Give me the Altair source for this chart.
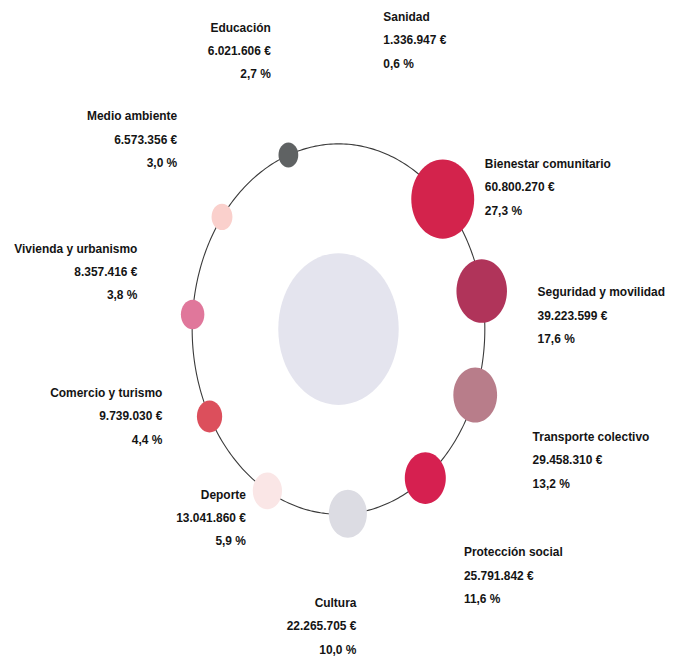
import altair as alt
import pandas as pd

# ---- data ----
names = ["Sanidad", "Bienestar comunitario", "Seguridad y movilidad", "Transporte colectivo",
         "Protección social", "Cultura", "Deporte", "Comercio y turismo",
         "Vivienda y urbanismo", "Medio ambiente", "Educación"]
amounts = [1336947, 60800270, 39223599, 29458310, 25791842, 22265705,
           13041860, 9739030, 8357416, 6573356, 6021606]
pcts = [0.6, 27.3, 17.6, 13.2, 11.6, 10.0, 5.9, 4.4, 3.8, 3.0, 2.7]
colors = ["transparent", "#d3234c", "#b0345a", "#b87d8a", "#d62050", "#dcdce3",
          "#fae6e6", "#dc4f5c", "#e0779b", "#fad0cc", "#5f6263"]
total_pct = [100]

# ---- layout (page pixels for label anchors) ----
label_px = [385, 487, 540, 535, 466, 358, 247, 163, 138, 178, 272]
label_py = [15, 163, 292, 437, 553, 604, 495, 393, 248, 115, 26]
label_side = ["left"] * 5 + ["right"] * 6

W, H = 658, 643
CX, CY = 332, 321      # ring centre in plot pixels
RX, RY = 147, 186      # ring radii in pixels
ASPECT = 1.26
ELLIPSE = f"M 1 0 A 1 {ASPECT} 0 1 1 -1 0 A 1 {ASPECT} 0 1 1 1 0 Z"
FONT = "Liberation Sans"
FS = 12


def eur(a):
    return f"{a:,}".replace(",", ".") + " €"


def pc(p):
    return f"{p:.1f}".replace(".", ",") + " %"


df = pd.DataFrame({
    "k": list(range(len(names))),
    "name": names,
    "pct": pcts,
    "color": colors,
    "label": [f"{n}\n{eur(a)}\n{pc(p)}" for n, a, p in zip(names, amounts, pcts)],
    "lx": [(px - 8 - CX) / RX for px in label_px],
    "ly": [(CY - (py - 8 + FS * 0.36)) / RY for py in label_py],
    "side": label_side,
})

xs = alt.Scale(domain=[-CX / RX, (W - CX) / RX], nice=False, zero=False)
ys = alt.Scale(domain=[-(H - CY) / RY, CY / RY], nice=False, zero=False)
sizes = alt.Scale(type="linear", domain=[0, 100], range=[0, 121 ** 2], zero=True)

ring = alt.Chart(alt.sequence(0, 361, 1, as_="deg")).transform_calculate(
    rx="sin(datum.deg*PI/180)", ry="cos(datum.deg*PI/180)"
).mark_line(color="#3a3a3a", strokeWidth=1.1).encode(
    x=alt.X("rx:Q", scale=xs, axis=None),
    y=alt.Y("ry:Q", scale=ys, axis=None),
    order="deg:Q",
)

center = alt.Chart(pd.DataFrame({"cx": [0.0], "cy": [0.0], "pct": total_pct})).mark_point(
    shape=ELLIPSE, filled=True, opacity=1, color="#e4e4ee", strokeWidth=0
).encode(
    x=alt.X("cx:Q", scale=xs, axis=None),
    y=alt.Y("cy:Q", scale=ys, axis=None),
    size=alt.Size("pct:Q", scale=sizes, legend=None),
)

base = alt.Chart(df)

bubbles = base.transform_calculate(
    th="(12.7 + datum.k*360/11)*PI/180"
).transform_calculate(
    bx="sin(datum.th)", by="cos(datum.th)"
).mark_point(shape=ELLIPSE, filled=True, opacity=1, strokeWidth=0).encode(
    x=alt.X("bx:Q", scale=xs, axis=None),
    y=alt.Y("by:Q", scale=ys, axis=None),
    size=alt.Size("pct:Q", scale=sizes, legend=None),
    color=alt.Color("color:N", scale=None),
)

text_kw = dict(baseline="alphabetic", lineBreak="\n", lineHeight=23.5, fontSize=FS,
               fontWeight="bold", font=FONT, color="#141414")

left = base.transform_filter(alt.datum.side == "left").mark_text(align="left", **text_kw).encode(
    x=alt.X("lx:Q", scale=xs, axis=None),
    y=alt.Y("ly:Q", scale=ys, axis=None),
    text="label:N",
)
right = base.transform_filter(alt.datum.side == "right").mark_text(align="right", **text_kw).encode(
    x=alt.X("lx:Q", scale=xs, axis=None),
    y=alt.Y("ly:Q", scale=ys, axis=None),
    text="label:N",
)

chart = alt.layer(ring, center, bubbles, left, right).properties(
    width=W, height=H, padding=0, background="white"
).configure_view(stroke=None)

chart.save("out.html", embed_options={"renderer": "svg", "actions": False})
